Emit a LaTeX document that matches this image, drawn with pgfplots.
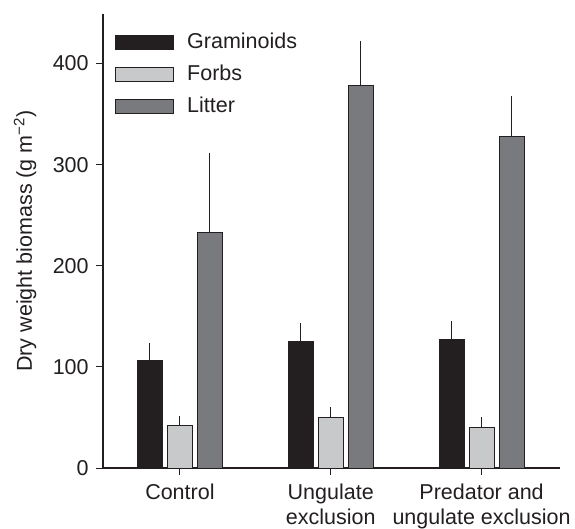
\documentclass[border=0pt]{standalone}
\usepackage{fontspec}
\setmainfont{Liberation Sans}
\usepackage{pgfplots}
\pgfplotsset{compat=1.18}
\definecolor{ink}{HTML}{231F20}
\definecolor{gram}{HTML}{231F20}
\definecolor{forb}{HTML}{C8C9CB}
\definecolor{litt}{HTML}{797A7D}
\begin{document}
\fontsize{21.5bp}{25bp}\selectfont
\begin{tikzpicture}
\begin{axis}[
  scale only axis, width=457bp, height=454bp,
  xmin=-0.51, xmax=2.52, ymin=0, ymax=449,
  axis x line=bottom, axis y line=left,
  axis line style={-, line width=1.2bp, ink},
  ybar=5bp, bar width=25bp,
  xtick={0,1,2},
  xticklabels={Control, Ungulate\\exclusion, Predator and\\ungulate exclusion},
  xticklabel style={align=center, text=ink, yshift=-2bp},
  yticklabel style={text=ink},
  ytick={0,100,200,300,400},
  tick align=outside, major tick length=7bp,
  tick style={line width=1bp, ink},
  /pgf/number format/assume math mode=true,
  ylabel={Dry weight biomass (g m\textsuperscript{−2})},
  ylabel style={text=ink, yshift=2bp},
  legend cell align=left,
  legend style={draw=none, fill=none, at={(0,1)}, anchor=north west,
    xshift=9bp, yshift=-17bp, row sep=13bp,
    nodes={inner sep=0pt, text=ink}},
  legend image code/.code={\draw[#1, line width=1bp] (0bp,-7bp) rectangle (58bp,7bp);\path (71bp,0bp);},
  error bars/y dir=plus, error bars/y explicit, error bars/error mark=none,
  error bars/error bar style={line width=1bp, ink},
]
\addplot[fill=gram, draw=ink, line width=1bp] coordinates {
  (0,106) +- (0,18)
  (1,125) +- (0,18)
  (2,127) +- (0,18)
};
\addplot[fill=forb, draw=ink, line width=1bp] coordinates {
  (0,42) +- (0,9)
  (1,50) +- (0,10)
  (2,40) +- (0,10)
};
\addplot[fill=litt, draw=ink, line width=1bp] coordinates {
  (0,233) +- (0,79)
  (1,378) +- (0,44)
  (2,328) +- (0,40)
};
\legend{Graminoids, Forbs, Litter}
\coordinate (bl) at (rel axis cs:0,0);
\end{axis}
\pgfresetboundingbox
\path (bl) ++(-103bp,-61bp) rectangle ++(575bp,529bp);
\end{tikzpicture}
\end{document}
